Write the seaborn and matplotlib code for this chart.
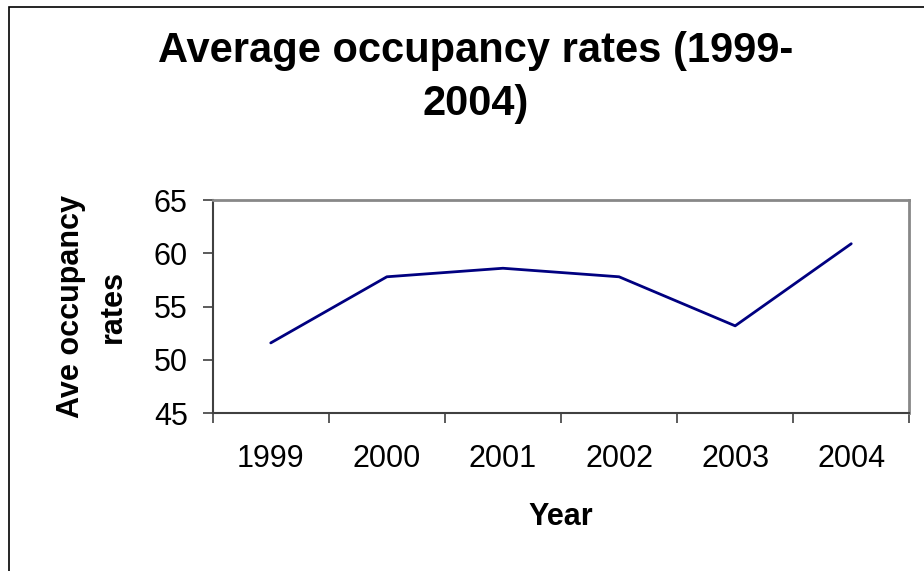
import matplotlib
matplotlib.use("Agg")
import pandas as pd
import numpy as np
import seaborn as sns
import matplotlib.pyplot as plt
from matplotlib.patches import Rectangle

# data
years = ["1999", "2000", "2001", "2002", "2003", "2004"]
rates = [51.6, 57.8, 58.6, 57.8, 53.2, 60.9]
y_ticks = [45, 50, 55, 60, 65]

df = pd.DataFrame({"Year": years, "rate": rates})

sns.set_theme(style="white")
plt.rcParams['font.family'] = ['Liberation Sans', 'DejaVu Sans']
plt.rcParams['text.color'] = 'black'

fig = plt.figure(figsize=(9.24, 5.71), dpi=100)
# plot area in figure fractions (Excel-like box)
ax = fig.add_axes([212.7 / 924, 1 - 413.3 / 571, 696.6 / 924, 213.3 / 571])

sns.lineplot(data=df, x="Year", y="rate", color="#000080", lw=2, ax=ax)

ax.set_xlim(-0.5, 5.5)
ax.set_ylim(45, 65)
ax.set_yticks(y_ticks)
ax.set_yticklabels([str(t) for t in y_ticks])

# category labels sit between the tick marks
ax.set_xticks(np.arange(-0.5, 6, 1))
ax.set_xticklabels([])
ax.set_xticks(range(len(years)), minor=True)
ax.set_xticklabels(years, minor=True)
ax.tick_params(axis="x", which="minor", length=0, pad=22, labelsize=22, labelcolor="black")
ax.tick_params(axis="x", which="major", direction="out", length=7, width=1.2, color="#404040", bottom=True)
ax.tick_params(axis="y", direction="out", length=7, width=1.2, color="#404040", left=True,
               pad=11, labelsize=22, labelcolor="black")

for s in ["left", "bottom"]:
    ax.spines[s].set_color("#404040")
    ax.spines[s].set_linewidth(1.5)
for s in ["top", "right"]:
    ax.spines[s].set_color("#888888")
    ax.spines[s].set_linewidth(2)

ax.set_xlabel("Year", fontsize=22, fontweight="bold", color="black", va="baseline")
ax.xaxis.set_label_coords(0.5, (413.3 - 525) / 213.3)
ax.set_ylabel("Ave occupancy\nrates", fontsize=22, fontweight="bold", color="black",
              va="center", ha="center", linespacing=1.55)
ax.yaxis.set_label_coords((92 - 212.7) / 696.6, 0.5)

# va="baseline" lines up the last line's baseline
fig.text(476 / 924, 1 - 115 / 571, "Average occupancy rates (1999-\n2004)", ha="center",
         va="baseline", fontsize=30, fontweight="bold", linespacing=1.42, color="black")

# outer chart border (only left/top edges are in view)
fig.add_artist(Rectangle((8.5 / 924, -0.5), 2, 0.5 + 1 - 7.3 / 571, transform=fig.transFigure,
                         fill=False, edgecolor="black", lw=1.2))

fig.savefig("out.png", dpi=100)
